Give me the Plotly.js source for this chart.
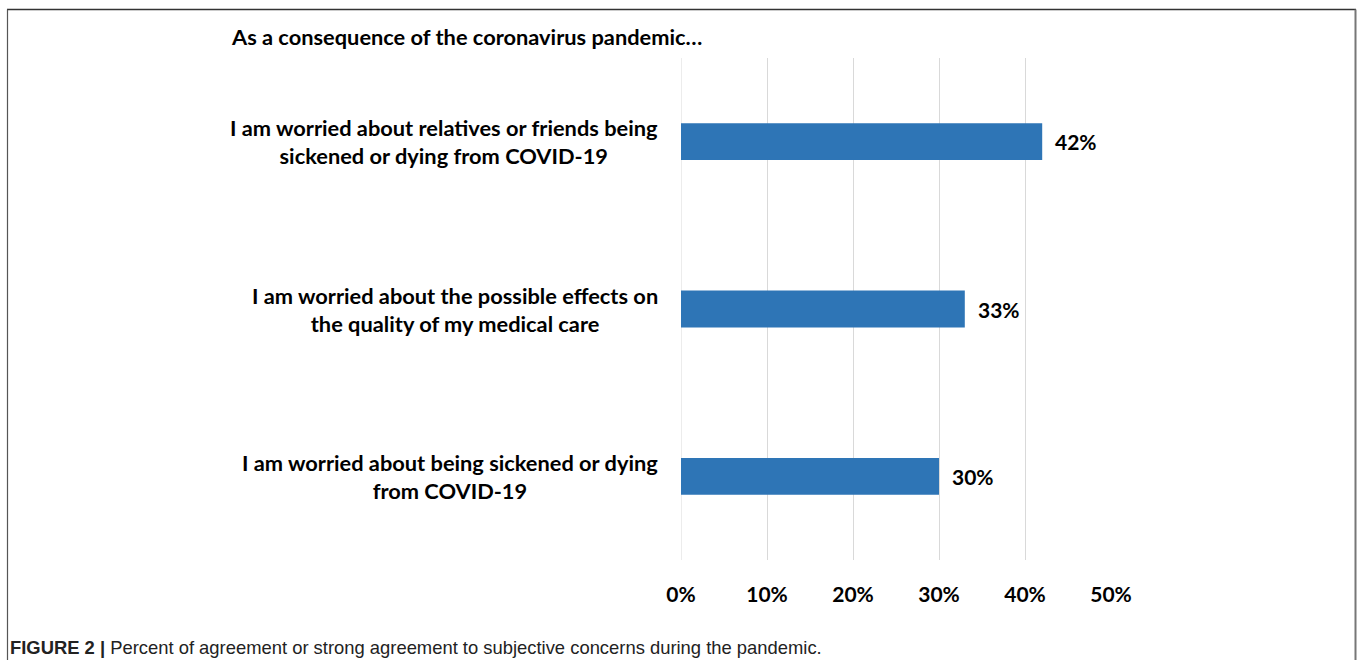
<!DOCTYPE html>
<html>
<head>
<meta charset="utf-8">
<script src="https://cdn.plot.ly/plotly-3.0.1.min.js"></script>
<style>
html,body{margin:0;padding:0;background:#fff;}
#chart{width:1357px;height:660px;}
</style>
</head>
<body>
<div id="chart"></div>
<script>
const categories = [
  "I am worried about relatives or friends being<br>sickened or dying from COVID-19",
  "I am worried about the possible effects on<br>the quality of my medical care",
  "I am worried about being sickened or dying<br>from COVID-19"
];
const values = [42, 33, 30];
const tickValues = [0, 10, 20, 30, 40, 50];
const tickLabels = ["0%", "10%", "20%", "30%", "40%", "50%"];
const titleText = "As a consequence of the coronavirus pandemic…";
const captionBold = "FIGURE 2 |";
const captionText = "Percent of agreement or strong agreement to subjective concerns during the pandemic.";

const chartFont = "Lato, 'Open Sans', sans-serif";
const W = 1357, H = 660;
const margin = {l: 681, r: 246, t: 58, b: 100};
const plotW = W - margin.l - margin.r;
const plotH = H - margin.t - margin.b;

const trace = {
  type: 'bar',
  orientation: 'h',
  x: values,
  y: categories,
  width: values.map(() => 0.22),
  marker: {color: '#2E75B6'},
  hoverinfo: 'none'
};

const annotations = [];
categories.forEach((c, i) => {
  annotations.push({
    xref: 'paper', yref: 'y', x: (660 - margin.l) / plotW, y: c,
    xanchor: 'right', yanchor: 'middle', align: 'center',
    text: '<b>' + c + '</b>', showarrow: false,
    font: {family: chartFont, size: 21.8, color: '#000'}
  });
  annotations.push({
    xref: 'x', yref: 'y', x: values[i], y: c,
    xanchor: 'left', yanchor: 'middle', xshift: 11,
    text: '<b>' + values[i] + '%</b>', showarrow: false,
    font: {family: chartFont, size: 21, color: '#000'}
  });
});
annotations.push({
  xref: 'paper', yref: 'paper',
  x: (8 - margin.l) / plotW, y: (H - 647 - margin.b) / plotH,
  xanchor: 'left', yanchor: 'middle', align: 'left',
  text: '<b>' + captionBold + '</b> ' + captionText, showarrow: false,
  font: {family: "'Liberation Sans', Arial, sans-serif", size: 18.4, color: '#222'}
});

const px = v => (v - margin.l) / plotW;
const py = v => (H - v - margin.b) / plotH;

const layout = {
  width: W, height: H,
  margin: margin,
  paper_bgcolor: '#fff', plot_bgcolor: '#fff',
  showlegend: false,
  title: {
    text: '<b>' + titleText + '</b>',
    x: 232 / W, xanchor: 'left', xref: 'container',
    y: 1 - 37 / H, yanchor: 'middle', yref: 'container',
    font: {family: chartFont, size: 21.8, color: '#000'}
  },
  xaxis: {
    range: [0, 50],
    tickvals: tickValues, ticktext: tickLabels.map(t => '<b>' + t + '</b>'),
    showgrid: true, gridcolor: '#d9d9d9', gridwidth: 1,
    zeroline: false, showline: false,
    ticks: '', ticklabelstandoff: 20,
    tickfont: {family: chartFont, size: 21, color: '#000'},
    fixedrange: true
  },
  yaxis: {
    type: 'category',
    categoryorder: 'array', categoryarray: categories,
    range: [2.5, -0.5],
    showticklabels: false, showgrid: false, zeroline: false, showline: false,
    ticks: '', fixedrange: true
  },
  annotations: annotations,
  shapes: [
    {type: 'line', xref: 'x', yref: 'paper', x0: tickValues[0], x1: tickValues[0], y0: 0, y1: 1, layer: 'below', line: {color: '#d9d9d9', width: 1}},
    {type: 'line', xref: 'paper', yref: 'paper', x0: px(7), x1: px(1356), y0: py(9.5), y1: py(9.5), line: {color: '#333', width: 1.5}},
    {type: 'line', xref: 'paper', yref: 'paper', x0: px(7.5), x1: px(7.5), y0: py(9.5), y1: py(661), line: {color: '#555', width: 1.2}},
    {type: 'line', xref: 'paper', yref: 'paper', x0: px(1355.5), x1: px(1355.5), y0: py(9.5), y1: py(661), line: {color: '#777', width: 2}}
  ]
};

Plotly.newPlot('chart', [trace], layout, {displayModeBar: false, staticPlot: true});
</script>
</body>
</html>
